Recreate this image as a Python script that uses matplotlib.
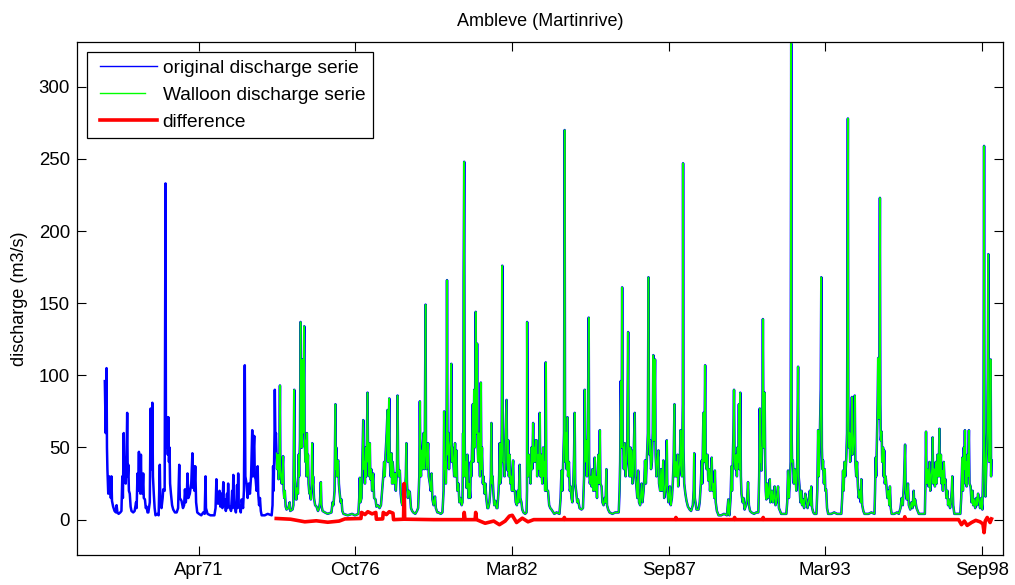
import numpy as np
import matplotlib
matplotlib.use('Agg')
import matplotlib.pyplot as plt
import matplotlib.dates as mdates
from matplotlib.legend_handler import HandlerLine2D
from datetime import datetime

plt.rcParams['font.family'] = ['Liberation Sans', 'DejaVu Sans']
plt.rcParams['font.size'] = 13

# original discharge serie, (decimal year, m3/s)
original = [
    # 1968
    (1968.01, 96), (1968.04, 60), (1968.07, 105), (1968.085, 50), (1968.10, 35), (1968.12, 22),
    (1968.13, 18), (1968.16, 30), (1968.18, 20), (1968.20, 28), (1968.22, 15), (1968.24, 30),
    (1968.26, 13), (1968.30, 9), (1968.35, 6), (1968.40, 5), (1968.42, 10), (1968.45, 5),
    (1968.49, 4), (1968.55, 5), (1968.59, 6), (1968.62, 30), (1968.64, 15), (1968.67, 60),
    (1968.69, 28), (1968.72, 40), (1968.74, 25), (1968.77, 45), (1968.79, 74), (1968.81, 30),
    (1968.83, 38), (1968.85, 20), (1968.88, 18), (1968.91, 9), (1968.94, 6),
    # 1969
    (1969.00, 5), (1969.05, 6), (1969.10, 12), (1969.12, 8), (1969.15, 32), (1969.17, 20),
    (1969.20, 47), (1969.22, 22), (1969.23, 30), (1969.25, 18), (1969.27, 45), (1969.29, 20),
    (1969.32, 18), (1969.35, 32), (1969.37, 15), (1969.41, 14), (1969.44, 8), (1969.47, 9),
    (1969.50, 5), (1969.53, 5), (1969.58, 12), (1969.61, 77), (1969.63, 35), (1969.65, 40),
    (1969.67, 81), (1969.69, 30), (1969.72, 18), (1969.75, 8), (1969.78, 3), (1969.84, 4),
    (1969.89, 3), (1969.93, 38), (1969.95, 12), (1969.99, 8),
    # 1970
    (1970.03, 15), (1970.05, 21), (1970.10, 20), (1970.13, 233), (1970.145, 60), (1970.17, 50),
    (1970.19, 71), (1970.21, 45), (1970.23, 71), (1970.25, 40), (1970.27, 50), (1970.29, 25),
    (1970.32, 18), (1970.36, 10), (1970.40, 7), (1970.46, 5), (1970.52, 5), (1970.57, 8),
    (1970.61, 38), (1970.63, 15), (1970.69, 13), (1970.74, 8), (1970.78, 10), (1970.81, 21),
    (1970.84, 12), (1970.88, 20), (1970.90, 32), (1970.93, 15), (1970.98, 18),
    # 1971
    (1971.03, 25), (1971.07, 46), (1971.09, 22), (1971.11, 37), (1971.14, 20), (1971.17, 37),
    (1971.20, 12), (1971.24, 5), (1971.30, 4), (1971.38, 3), (1971.45, 5), (1971.50, 4),
    (1971.53, 30), (1971.545, 8), (1971.60, 4), (1971.70, 3), (1971.84, 3), (1971.88, 8),
    (1971.91, 28), (1971.93, 12), (1971.97, 11),
    # 1972
    (1972.02, 20), (1972.05, 9), (1972.09, 18), (1972.12, 8), (1972.15, 26), (1972.17, 10),
    (1972.20, 14), (1972.24, 6), (1972.28, 18), (1972.30, 8), (1972.32, 25), (1972.34, 9),
    (1972.38, 9), (1972.42, 6), (1972.46, 20), (1972.48, 8), (1972.50, 31), (1972.52, 10),
    (1972.55, 11), (1972.59, 5), (1972.63, 24), (1972.65, 8), (1972.67, 32), (1972.69, 10),
    (1972.73, 9), (1972.76, 5), (1972.79, 14), (1972.84, 8), (1972.87, 20), (1972.90, 107),
    (1972.92, 30), (1972.96, 25),
    # 1973
    (1973.00, 15), (1973.04, 25), (1973.08, 18), (1973.12, 30), (1973.16, 62), (1973.18, 30),
    (1973.20, 45), (1973.23, 58), (1973.25, 30), (1973.28, 28), (1973.31, 20), (1973.35, 37),
    (1973.37, 18), (1973.40, 10), (1973.43, 15), (1973.46, 6), (1973.49, 3), (1973.60, 3),
    (1973.70, 4), (1973.84, 3), (1973.87, 10), (1973.89, 37), (1973.91, 20), (1973.94, 60),
    (1973.95, 90), (1973.97, 55), (1973.99, 60),
    # 1974
    (1974.01, 46), (1974.03, 35), (1974.06, 45), (1974.08, 28), (1974.11, 40), (1974.13, 93),
    (1974.145, 35), (1974.16, 30), (1974.19, 25), (1974.22, 35), (1974.24, 44), (1974.26, 20),
    (1974.28, 15), (1974.30, 20), (1974.33, 9), (1974.36, 7), (1974.42, 8), (1974.47, 12),
    (1974.49, 6), (1974.57, 7), (1974.60, 10), (1974.63, 90), (1974.645, 30), (1974.67, 25),
    (1974.69, 14), (1974.71, 14), (1974.73, 22), (1974.76, 18), (1974.78, 45), (1974.80, 30),
    (1974.83, 55), (1974.85, 137), (1974.865, 50), (1974.88, 60), (1974.90, 50), (1974.92, 111),
    (1974.93, 60), (1974.95, 70), (1974.98, 134), (1974.99, 60),
    # 1975
    (1975.02, 40), (1975.04, 55), (1975.06, 30), (1975.07, 60), (1975.09, 35), (1975.11, 45),
    (1975.13, 25), (1975.16, 18), (1975.18, 20), (1975.21, 14), (1975.24, 25), (1975.26, 53),
    (1975.28, 25), (1975.29, 30), (1975.32, 15), (1975.36, 10), (1975.41, 9), (1975.46, 6),
    (1975.50, 8), (1975.53, 12), (1975.56, 26), (1975.58, 10), (1975.62, 6), (1975.70, 5),
    (1975.80, 4), (1975.93, 5), (1975.97, 12), (1976.00, 10), (1976.04, 20),
    # 1976
    (1976.07, 80), (1976.085, 35), (1976.10, 50), (1976.12, 30), (1976.14, 40), (1976.17, 41),
    (1976.19, 25), (1976.21, 20), (1976.25, 12), (1976.28, 14), (1976.31, 6), (1976.35, 4),
    (1976.50, 3), (1976.65, 4), (1976.75, 3), (1976.87, 4), (1976.90, 15), (1976.92, 29),
    (1976.94, 12), (1976.98, 15),
    # 1977
    (1977.00, 30), (1977.04, 69), (1977.06, 35), (1977.08, 40), (1977.10, 25), (1977.13, 50),
    (1977.15, 30), (1977.17, 60), (1977.19, 88), (1977.21, 40), (1977.23, 53), (1977.25, 30),
    (1977.27, 53), (1977.29, 28), (1977.32, 35), (1977.35, 20), (1977.39, 32), (1977.42, 15),
    (1977.47, 14), (1977.50, 9), (1977.55, 10), (1977.61, 8), (1977.66, 10), (1977.70, 20),
    (1977.74, 30), (1977.77, 40), (1977.79, 30), (1977.82, 45), (1977.86, 60), (1977.89, 76),
    (1977.91, 40), (1977.93, 55), (1977.95, 84), (1977.97, 40),
    # 1978
    (1978.00, 30), (1978.03, 46), (1978.05, 25), (1978.07, 40), (1978.09, 34), (1978.12, 25),
    (1978.15, 32), (1978.18, 20), (1978.22, 35), (1978.24, 86), (1978.26, 40), (1978.28, 30),
    (1978.32, 34), (1978.35, 18), (1978.38, 12), (1978.41, 10), (1978.44, 15), (1978.47, 25),
    (1978.50, 20), (1978.53, 30), (1978.55, 53), (1978.57, 25), (1978.60, 15), (1978.64, 20),
    (1978.67, 19), (1978.71, 8), (1978.75, 6), (1978.79, 5), (1978.86, 4), (1978.92, 6),
    (1978.96, 8),
    # 1979
    (1979.00, 30), (1979.02, 82), (1979.04, 40), (1979.06, 30), (1979.08, 48), (1979.10, 35),
    (1979.12, 50), (1979.15, 60), (1979.17, 35), (1979.19, 45), (1979.22, 149), (1979.235, 53),
    (1979.25, 35), (1979.28, 40), (1979.31, 53), (1979.33, 30), (1979.37, 25), (1979.40, 20),
    (1979.43, 32), (1979.46, 14), (1979.50, 10), (1979.55, 16), (1979.58, 8), (1979.63, 5),
    (1979.67, 5), (1979.75, 4), (1979.81, 5), (1979.85, 20), (1979.87, 75), (1979.89, 35),
    (1979.91, 40), (1979.93, 25), (1979.955, 50), (1979.97, 166), (1979.985, 60),
    # 1980
    (1980.00, 45), (1980.02, 60), (1980.04, 35), (1980.07, 50), (1980.10, 55), (1980.12, 108),
    (1980.14, 40), (1980.16, 50), (1980.19, 40), (1980.22, 30), (1980.25, 53), (1980.27, 30),
    (1980.30, 48), (1980.33, 20), (1980.37, 25), (1980.40, 12), (1980.44, 15), (1980.48, 10),
    (1980.51, 12), (1980.53, 60), (1980.54, 30), (1980.55, 167), (1980.57, 248), (1980.585, 60),
    (1980.60, 30), (1980.62, 40), (1980.65, 22), (1980.68, 45), (1980.70, 25), (1980.72, 15),
    (1980.75, 25), (1980.78, 15), (1980.80, 40), (1980.82, 30), (1980.85, 55), (1980.87, 80),
    (1980.89, 40), (1980.92, 90), (1980.94, 50), (1980.97, 144), (1980.985, 70),
    # 1981
    (1981.00, 60), (1981.02, 122), (1981.04, 50), (1981.06, 40), (1981.08, 60), (1981.10, 50),
    (1981.12, 30), (1981.15, 95), (1981.17, 35), (1981.19, 50), (1981.22, 25), (1981.24, 30),
    (1981.28, 18), (1981.31, 25), (1981.34, 15), (1981.38, 8), (1981.41, 8), (1981.45, 12),
    (1981.48, 20), (1981.50, 30), (1981.52, 67), (1981.54, 25), (1981.56, 30), (1981.59, 18),
    (1981.62, 10), (1981.66, 13), (1981.70, 8), (1981.73, 8), (1981.77, 20), (1981.79, 30),
    (1981.81, 53), (1981.83, 25), (1981.86, 30), (1981.88, 60), (1981.90, 176), (1981.915, 60),
    (1981.93, 40), (1981.96, 40), (1981.98, 30),
    # 1982
    (1982.00, 50), (1982.03, 70), (1982.05, 83), (1982.07, 40), (1982.09, 34), (1982.11, 55),
    (1982.13, 30), (1982.16, 45), (1982.18, 25), (1982.21, 30), (1982.24, 20), (1982.26, 35),
    (1982.28, 41), (1982.30, 20), (1982.34, 20), (1982.37, 12), (1982.41, 10), (1982.44, 20),
    (1982.47, 12), (1982.51, 38), (1982.53, 15), (1982.57, 12), (1982.60, 7), (1982.64, 5),
    (1982.70, 4), (1982.75, 5), (1982.765, 20), (1982.77, 137), (1982.785, 40), (1982.80, 30),
    (1982.83, 45), (1982.86, 34), (1982.89, 25), (1982.92, 50), (1982.95, 35), (1982.98, 67),
    # 1983
    (1983.00, 40), (1983.02, 50), (1983.04, 40), (1983.07, 55), (1983.10, 55), (1983.12, 30),
    (1983.15, 45), (1983.18, 35), (1983.21, 74), (1983.23, 30), (1983.25, 45), (1983.27, 34),
    (1983.30, 25), (1983.33, 50), (1983.35, 30), (1983.38, 40), (1983.40, 20), (1983.42, 109),
    (1983.44, 30), (1983.46, 20), (1983.50, 20), (1983.54, 10), (1983.58, 8), (1983.62, 7),
    (1983.72, 4), (1983.80, 5), (1983.90, 4), (1983.94, 15), (1983.97, 34),
    # 1984
    (1984.00, 20), (1984.03, 40), (1984.06, 60), (1984.08, 270), (1984.095, 60), (1984.11, 40),
    (1984.13, 60), (1984.15, 35), (1984.18, 71), (1984.20, 30), (1984.23, 40), (1984.26, 20),
    (1984.29, 23), (1984.32, 15), (1984.35, 12), (1984.39, 30), (1984.41, 45), (1984.43, 74),
    (1984.45, 25), (1984.48, 20), (1984.52, 12), (1984.55, 14), (1984.60, 8), (1984.67, 7),
    (1984.72, 8), (1984.76, 30), (1984.78, 90), (1984.795, 40), (1984.82, 50), (1984.84, 55),
    (1984.86, 30), (1984.89, 60), (1984.92, 140), (1984.935, 40), (1984.96, 25), (1984.99, 30),
    # 1985
    (1985.02, 23), (1985.05, 35), (1985.08, 20), (1985.11, 30), (1985.13, 43), (1985.15, 20),
    (1985.18, 30), (1985.21, 15), (1985.23, 30), (1985.26, 45), (1985.28, 25), (1985.31, 62),
    (1985.33, 25), (1985.37, 23), (1985.40, 12), (1985.44, 10), (1985.48, 15), (1985.51, 12),
    (1985.54, 35), (1985.56, 10), (1985.60, 7), (1985.65, 5), (1985.75, 4), (1985.85, 5),
    (1985.97, 5),
    # 1986
    (1986.00, 20), (1986.02, 40), (1986.04, 96), (1986.07, 50), (1986.09, 161), (1986.11, 50),
    (1986.13, 50), (1986.15, 35), (1986.18, 53), (1986.21, 30), (1986.24, 40), (1986.27, 55),
    (1986.30, 130), (1986.32, 40), (1986.35, 30), (1986.38, 50), (1986.40, 30), (1986.42, 48),
    (1986.45, 25), (1986.48, 35), (1986.50, 50), (1986.53, 74), (1986.55, 30), (1986.58, 25),
    (1986.62, 15), (1986.65, 34), (1986.68, 12), (1986.72, 10), (1986.77, 25), (1986.80, 12),
    (1986.84, 20), (1986.87, 30), (1986.89, 41), (1986.92, 25), (1986.95, 40), (1986.99, 60),
    # 1987
    (1987.01, 168), (1987.03, 60), (1987.05, 45), (1987.07, 55), (1987.10, 35), (1987.13, 40),
    (1987.16, 60), (1987.18, 114), (1987.20, 55), (1987.22, 80), (1987.24, 111), (1987.26, 45),
    (1987.29, 30), (1987.32, 40), (1987.36, 48), (1987.38, 25), (1987.42, 20), (1987.45, 35),
    (1987.48, 20), (1987.50, 25), (1987.53, 41), (1987.56, 15), (1987.59, 20), (1987.62, 25),
    (1987.65, 55), (1987.67, 20), (1987.71, 12), (1987.76, 23), (1987.79, 10), (1987.83, 15),
    (1987.86, 25), (1987.89, 40), (1987.92, 80), (1987.94, 30), (1987.97, 40),
    # 1988
    (1988.00, 30), (1988.03, 45), (1988.05, 23), (1988.08, 35), (1988.11, 40), (1988.13, 62),
    (1988.15, 35), (1988.18, 30), (1988.21, 80), (1988.22, 247), (1988.235, 50), (1988.26, 25),
    (1988.30, 18), (1988.34, 13), (1988.39, 9), (1988.45, 7), (1988.50, 6), (1988.56, 10),
    (1988.59, 20), (1988.61, 46), (1988.63, 15), (1988.69, 7), (1988.76, 7), (1988.80, 12),
    (1988.84, 25), (1988.87, 41), (1988.89, 25), (1988.91, 50), (1988.93, 74), (1988.95, 40),
    (1988.97, 60), (1988.99, 107),
    # 1989
    (1989.01, 40), (1989.04, 35), (1989.07, 45), (1989.10, 27), (1989.13, 35), (1989.16, 20),
    (1989.19, 30), (1989.22, 43), (1989.24, 20), (1989.28, 25), (1989.31, 15), (1989.33, 34),
    (1989.36, 12), (1989.40, 6), (1989.46, 3), (1989.55, 3), (1989.65, 4), (1989.75, 3),
    (1989.80, 14), (1989.82, 5), (1989.84, 3), (1989.88, 15), (1989.91, 37), (1989.93, 20),
    (1989.96, 45), (1989.98, 60),
    # 1990
    (1990.00, 90), (1990.02, 40), (1990.05, 35), (1990.08, 45), (1990.10, 30), (1990.12, 50),
    (1990.15, 40), (1990.17, 80), (1990.19, 35), (1990.22, 88), (1990.24, 30), (1990.26, 18),
    (1990.30, 12), (1990.33, 15), (1990.37, 7), (1990.42, 10), (1990.46, 15), (1990.49, 26),
    (1990.52, 10), (1990.56, 6), (1990.61, 5), (1990.70, 4), (1990.78, 5), (1990.85, 5),
    (1990.88, 30), (1990.90, 77), (1990.92, 40), (1990.94, 50), (1990.96, 34), (1990.99, 60),
    # 1991
    (1991.01, 139), (1991.03, 60), (1991.05, 50), (1991.07, 88), (1991.09, 40), (1991.11, 20),
    (1991.13, 14), (1991.16, 25), (1991.19, 15), (1991.22, 20), (1991.25, 28), (1991.27, 12),
    (1991.30, 14), (1991.33, 20), (1991.36, 12), (1991.39, 15), (1991.42, 23), (1991.45, 10),
    (1991.48, 12), (1991.51, 18), (1991.54, 23), (1991.57, 8), (1991.61, 6), (1991.65, 4),
    (1991.75, 4), (1991.83, 4), (1991.86, 12), (1991.89, 34), (1991.92, 15), (1991.95, 25),
    (1991.98, 40),
    # 1992
    (1992.00, 330), (1992.015, 60), (1992.03, 40), (1992.06, 41), (1992.09, 25), (1992.12, 35),
    (1992.15, 30), (1992.18, 20), (1992.21, 40), (1992.24, 106), (1992.26, 30), (1992.29, 23),
    (1992.32, 12), (1992.36, 20), (1992.38, 10), (1992.41, 14), (1992.45, 8), (1992.49, 18),
    (1992.53, 14), (1992.57, 8), (1992.61, 12), (1992.65, 20), (1992.68, 10), (1992.70, 23),
    (1992.73, 8), (1992.77, 5), (1992.81, 4), (1992.88, 4), (1992.91, 20), (1992.94, 62),
    (1992.96, 30), (1992.98, 40),
    # 1993
    (1993.00, 60), (1993.03, 90), (1993.05, 168), (1993.07, 50), (1993.09, 35), (1993.11, 41),
    (1993.14, 25), (1993.17, 35), (1993.19, 20), (1993.22, 21), (1993.25, 8), (1993.29, 4),
    (1993.40, 4), (1993.50, 5), (1993.60, 4), (1993.75, 4), (1993.78, 15), (1993.81, 34),
    (1993.83, 20), (1993.86, 40), (1993.89, 30), (1993.92, 41), (1993.95, 60), (1993.98, 278),
    # 1994
    (1993.995, 80), (1994.02, 50), (1994.04, 60), (1994.06, 40), (1994.09, 55), (1994.12, 85),
    (1994.14, 45), (1994.17, 50), (1994.20, 60), (1994.22, 86), (1994.24, 40), (1994.27, 30),
    (1994.30, 40), (1994.33, 23), (1994.36, 15), (1994.40, 20), (1994.43, 12), (1994.45, 28),
    (1994.48, 10), (1994.52, 6), (1994.56, 4), (1994.70, 4), (1994.80, 5), (1994.91, 4),
    (1994.93, 20), (1994.95, 43), (1994.97, 30), (1995.00, 60), (1995.02, 80), (1995.04, 112),
    (1995.06, 70), (1995.08, 100),
    # 1995
    (1995.10, 223), (1995.115, 80), (1995.13, 55), (1995.16, 61), (1995.18, 40), (1995.21, 50),
    (1995.23, 30), (1995.25, 48), (1995.27, 25), (1995.30, 30), (1995.33, 23), (1995.36, 15),
    (1995.40, 20), (1995.43, 10), (1995.45, 23), (1995.48, 8), (1995.51, 4), (1995.60, 4),
    (1995.70, 5), (1995.76, 4), (1995.82, 8), (1995.86, 15), (1995.90, 10), (1995.94, 25),
    (1995.98, 52),
    # 1996
    (1996.00, 20), (1996.04, 14), (1996.08, 25), (1996.11, 10), (1996.16, 7), (1996.20, 12),
    (1996.24, 8), (1996.28, 20), (1996.30, 10), (1996.33, 14), (1996.38, 8), (1996.46, 4),
    (1996.55, 4), (1996.67, 4), (1996.69, 25), (1996.71, 61), (1996.73, 25), (1996.76, 35),
    (1996.80, 23), (1996.83, 40), (1996.86, 20), (1996.89, 30), (1996.92, 35), (1996.94, 57),
    (1996.96, 25), (1996.99, 35),
    # 1997
    (1997.02, 23), (1997.05, 40), (1997.08, 25), (1997.11, 45), (1997.14, 30), (1997.16, 40),
    (1997.18, 63), (1997.20, 30), (1997.23, 45), (1997.25, 25), (1997.27, 34), (1997.30, 20),
    (1997.33, 40), (1997.36, 25), (1997.39, 28), (1997.42, 15), (1997.46, 20), (1997.48, 10),
    (1997.51, 14), (1997.55, 8), (1997.58, 12), (1997.61, 20), (1997.63, 30), (1997.66, 10),
    (1997.70, 4), (1997.80, 4), (1997.91, 4), (1997.94, 15), (1997.96, 30), (1997.98, 43),
    # 1998
    (1998.00, 20), (1998.03, 50), (1998.05, 35), (1998.07, 62), (1998.09, 25), (1998.11, 40),
    (1998.13, 23), (1998.16, 45), (1998.18, 30), (1998.21, 62), (1998.23, 25), (1998.27, 23),
    (1998.30, 12), (1998.34, 20), (1998.36, 10), (1998.39, 14), (1998.43, 8), (1998.47, 15),
    (1998.50, 10), (1998.53, 18), (1998.56, 14), (1998.60, 8), (1998.64, 15), (1998.68, 7),
    (1998.72, 50), (1998.74, 259), (1998.755, 60), (1998.77, 30), (1998.79, 16), (1998.82, 40),
    (1998.85, 60), (1998.87, 100), (1998.89, 184), (1998.905, 60), (1998.92, 40), (1998.95, 60),
    (1998.97, 111), (1998.985, 30), (1999.00, 41),
]

# Walloon serie starts in 1974
walloon_start = 1974.0

# difference between the two series
difference = [
    (1974.00, 0.8), (1974.50, 0.3), (1975.00, -1.5), (1975.40, -0.8), (1975.80, -1.8),
    (1976.20, -1.0), (1976.40, 0.5), (1976.96, 0.8), (1976.98, 5.0), (1977.10, 3.5),
    (1977.20, 5.5), (1977.35, 4.0), (1977.48, 5.0), (1977.50, 0.3), (1977.72, 0.5),
    (1977.74, 5.0), (1977.85, 3.5), (1977.95, 5.5), (1978.08, 4.5), (1978.10, 0.0),
    (1978.45, 0.3), (1978.47, 25.0), (1978.49, 0.3), (1979.50, 0.0), (1980.55, 0.0),
    (1980.57, 5.0), (1980.60, 0.0), (1980.95, 0.0), (1980.97, 5.0), (1981.00, 0.0),
    (1981.30, -2.5), (1981.60, -1.0), (1981.80, -3.5), (1982.00, -1.0), (1982.15, 2.5),
    (1982.25, 3.0), (1982.40, -2.0), (1982.60, 1.0), (1982.80, -1.5), (1983.00, 0.0),
    (1984.05, 0.0), (1984.07, 1.5), (1984.09, 0.0), (1987.95, 0.0), (1987.97, 1.5),
    (1987.99, 0.0), (1990.00, 0.0), (1990.02, 1.5), (1990.04, 0.0), (1991.00, 0.0),
    (1991.02, 1.5), (1991.04, 0.0), (1995.95, 0.0), (1995.97, 2.0), (1995.99, 0.0),
    (1997.85, 0.0), (1997.95, -3.5), (1998.05, -1.0), (1998.15, -4.0), (1998.30, -2.0),
    (1998.45, -0.5), (1998.60, -1.5), (1998.70, -3.0), (1998.74, -9.0), (1998.78, -1.0),
    (1998.85, 1.5), (1998.95, -2.0), (1999.00, 0.5),
]

x_ticks = np.arange(720000, 730001, 2000)   # datenum tick positions
x_limits = (718447, 730268)
y_limits = (-24.5, 331)


def year_to_num(y):
    yr = int(np.floor(y))
    start = datetime(yr, 1, 1)
    length = (datetime(yr + 1, 1, 1) - start).days
    return mdates.date2num(start) + (y - yr) * length


def datenum_to_num(d):
    # datenum 719529 is 1970-01-01, the matplotlib epoch
    return d - 719529


class ShortLine(HandlerLine2D):
    # legend sample drawn a bit shorter than the others
    def create_artists(self, legend, orig_handle, xdescent, ydescent, width,
                       height, fontsize, trans):
        return super().create_artists(legend, orig_handle, xdescent, ydescent,
                                      width * 0.79, height, fontsize, trans)


orig = np.array(original)
diff = np.array(difference)
t_orig = np.array([year_to_num(y) for y in orig[:, 0]])
t_diff = np.array([year_to_num(y) for y in diff[:, 0]])
wal = orig[:, 0] >= walloon_start

fig = plt.figure(figsize=(10.15, 5.85), dpi=100)
ax = fig.add_axes([0.0759, 0.0513, 0.9123, 0.8769])

l1, = ax.plot(t_orig, orig[:, 1], color=(0, 0, 1), lw=1.8, label='original discharge serie')
l2, = ax.plot(t_orig[wal], orig[wal, 1], color=(0, 1, 0), lw=1.1, label='Walloon discharge serie')
l3, = ax.plot(t_diff, diff[:, 1], color=(1, 0, 0), lw=2.6, label='difference')

ax.set_xlim(datenum_to_num(x_limits[0]), datenum_to_num(x_limits[1]))
ax.set_ylim(*y_limits)
ax.set_xticks(datenum_to_num(x_ticks))
ax.xaxis.set_major_formatter(mdates.DateFormatter('%b%y'))
ax.set_yticks(np.arange(0, 301, 50))

ax.tick_params(direction='in', top=True, right=True, length=6.5, width=0.8,
               labelsize=13.4, pad=5)
for s in ax.spines.values():
    s.set_linewidth(0.9)

ax.set_title('Ambleve (Martinrive)', fontsize=13, pad=11.5)
ax.set_ylabel('discharge (m3/s)', fontsize=13, labelpad=8)

legend_lines = [l1, l2, l3]
leg = ax.legend(legend_lines, [l.get_label() for l in legend_lines],
                loc='upper left', bbox_to_anchor=(0.011, 0.981), fancybox=False,
                edgecolor='black', framealpha=1, handlelength=3.23, labelspacing=0.5,
                borderpad=0.4, handletextpad=0.31, fontsize=13.8, borderaxespad=0,
                handler_map={l1: HandlerLine2D(xpad=0.26), l2: ShortLine(xpad=0.26),
                             l3: HandlerLine2D(xpad=0.26)})
leg.get_frame().set_linewidth(0.9)
for h, w in zip(leg.get_lines(), (1.0, 1.0, 2.6)):
    h.set_linewidth(w)

fig.savefig('out.png', dpi=100)
